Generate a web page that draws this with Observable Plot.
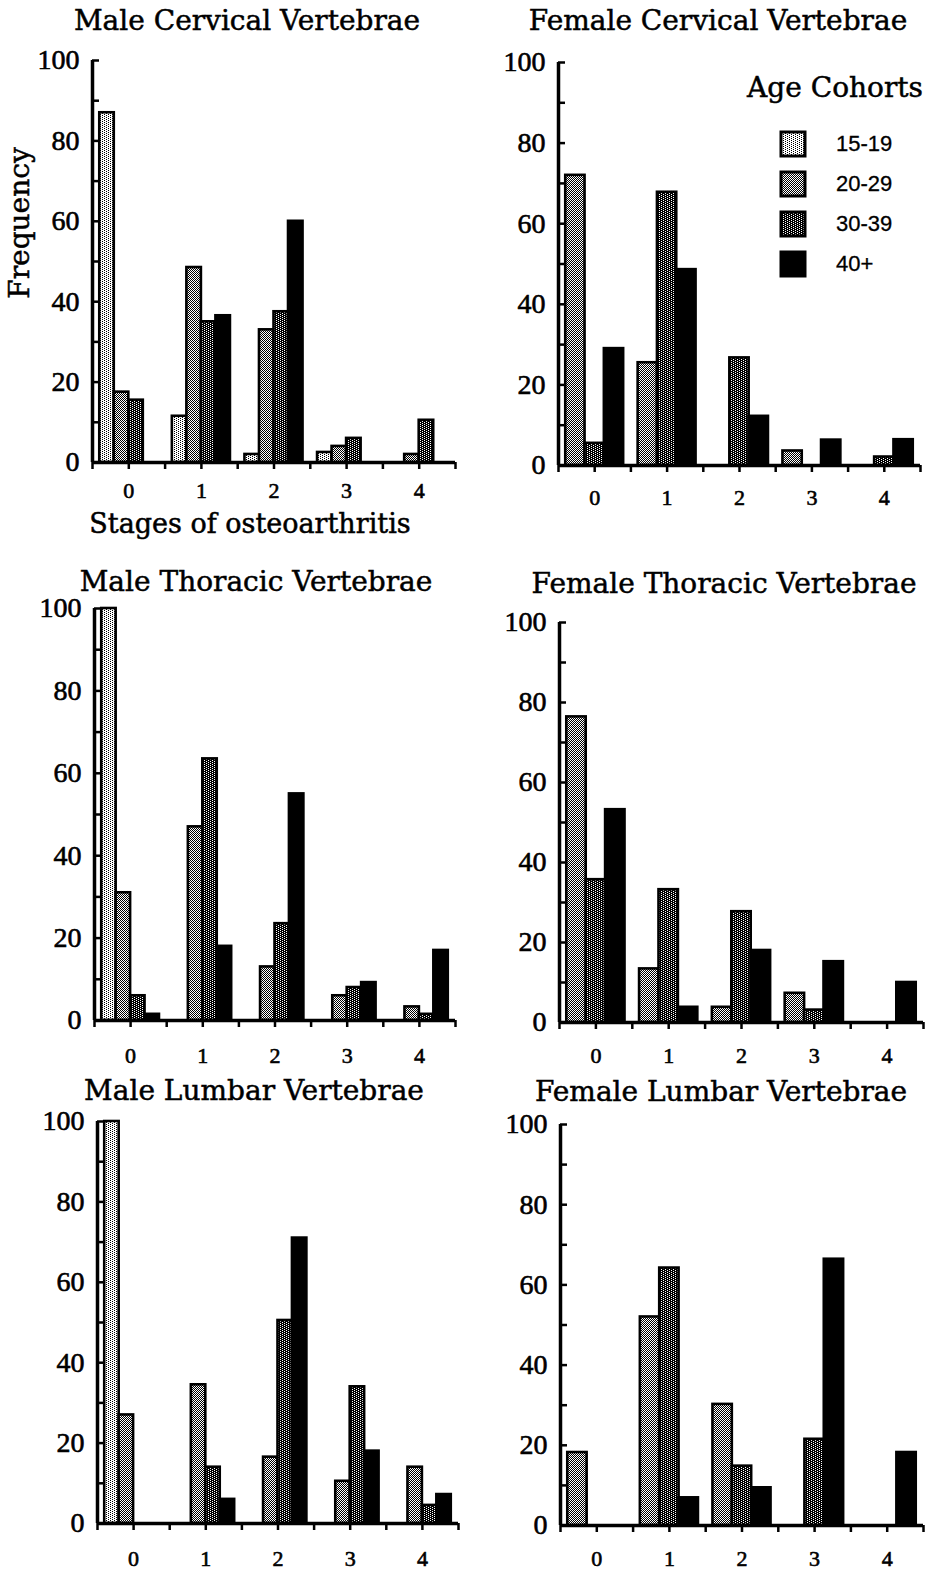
<!DOCTYPE html>
<html><head><meta charset="utf-8">
<script src="https://cdn.jsdelivr.net/npm/d3@7"></script>
<script src="https://cdn.jsdelivr.net/npm/@observablehq/plot@0.6"></script>
<style>
html,body{margin:0;padding:0;background:#fff}
body{width:934px;height:1571px;position:relative;overflow:hidden}
.abs{position:absolute}
.title{font-family:"DejaVu Serif";font-size:28px;white-space:nowrap;transform:translate(-50%,-50%);color:#000;line-height:1;-webkit-text-stroke:0.5px #000}
.lbl{font-family:"DejaVu Serif";font-size:27px;white-space:nowrap;color:#000;line-height:1;-webkit-text-stroke:0.5px #000}
.leg{font-family:"Liberation Sans";font-size:22px;white-space:nowrap;color:#000;line-height:1;transform:translateY(-50%);-webkit-text-stroke:0.3px #000}
svg.panel text{stroke:#000;stroke-width:0.6px;paint-order:stroke}
</style></head><body>
<svg width="0" height="0" style="position:absolute">
<defs>
<pattern id="p15" width="4" height="2" patternUnits="userSpaceOnUse">
<rect width="4" height="2" fill="#fff"/><rect x="0" y="0" width="1" height="1" fill="#000"/><rect x="2" y="1" width="1" height="1" fill="#000"/>
</pattern>
<pattern id="p20" width="2" height="2" patternUnits="userSpaceOnUse">
<rect width="2" height="2" fill="#fff"/><rect x="0" y="0" width="1" height="1" fill="#000"/><rect x="1" y="1" width="1" height="1" fill="#000"/>
</pattern>
<pattern id="p30" width="4" height="2" patternUnits="userSpaceOnUse">
<rect width="4" height="2" fill="#000"/><rect x="0" y="0" width="1" height="1" fill="#fff"/><rect x="2" y="1" width="1" height="1" fill="#fff"/>
</pattern>
<pattern id="p40" width="2" height="2" patternUnits="userSpaceOnUse">
<rect width="2" height="2" fill="#000"/>
</pattern>
</defs>
</svg>
<div id="root"></div>
<script>
// ---- data ----
const stages = [0, 1, 2, 3, 4];
const stageLabels = ["0", "1", "2", "3", "4"];
const yTicks = [0, 20, 40, 60, 80, 100];
const yMinorTicks = [0, 10, 20, 30, 40, 50, 60, 70, 80, 90, 100];
const maleCohorts = ["15-19", "20-29", "30-39", "40+"];
const femaleCohorts = ["20-29", "30-39", "40+"];
const legendCohorts = ["15-19", "20-29", "30-39", "40+"];

// rows: cohorts, columns: stages 0..4
const maleCervical = [
  [87, 11.5, 2, 2.5, 0],
  [17.5, 48.5, 33, 4, 2],
  [15.5, 35, 37.5, 6, 10.5],
  [0, 36.5, 60, 0, 0]
];
const femaleCervical = [
  [72, 25.5, 0, 3.6, 0],
  [5.5, 67.8, 26.7, 0, 2.1],
  [29, 48.6, 12.2, 6.3, 6.4]
];
const maleThoracic = [
  [100, 0, 0, 0, 0],
  [31, 47, 13, 6, 3.3],
  [6, 63.5, 23.5, 8, 1.5],
  [1.5, 18, 55, 9.2, 17]
];
const femaleThoracic = [
  [76.4, 13.4, 3.8, 7.3, 0],
  [35.7, 33.2, 27.7, 3.1, 0],
  [53.2, 3.8, 18, 15.2, 10]
];
const maleLumbar = [
  [100, 0, 0, 0, 0],
  [27, 34.5, 16.5, 10.5, 14],
  [0, 14, 50.5, 34, 4.5],
  [0, 6, 71, 18, 7.2]
];
const femaleLumbar = [
  [18.2, 52, 30.2, 0, 0],
  [0, 64.2, 14.8, 21.5, 0],
  [0, 6.9, 9.4, 66.4, 18.2]
];

const patterns = {"15-19": "url(#p15)", "20-29": "url(#p20)", "30-39": "url(#p30)", "40+": "url(#p40)"};

// ---- layout ----
const panels = [
  {title: "Male Cervical Vertebrae", cohorts: maleCohorts, values: maleCervical, left: 0, axisX: 92, y100: 60, y0: 462, xRight: 455, tx: 247, ty: 21, xPad: 13},
  {title: "Female Cervical Vertebrae", cohorts: femaleCohorts, values: femaleCervical, left: 467, axisX: 558, y100: 62, y0: 465, xRight: 920, tx: 718, ty: 21, xPad: 17},
  {title: "Male Thoracic Vertebrae", cohorts: maleCohorts, values: maleThoracic, left: 0, axisX: 94, y100: 608, y0: 1020, xRight: 455, tx: 256, ty: 582, xPad: 20},
  {title: "Female Thoracic Vertebrae", cohorts: femaleCohorts, values: femaleThoracic, left: 467, axisX: 559, y100: 622, y0: 1022, xRight: 923, tx: 724, ty: 584, xPad: 18},
  {title: "Male Lumbar Vertebrae", cohorts: maleCohorts, values: maleLumbar, left: 0, axisX: 97, y100: 1121, y0: 1523, xRight: 458, tx: 254, ty: 1091, xPad: 20},
  {title: "Female Lumbar Vertebrae", cohorts: femaleCohorts, values: femaleLumbar, left: 467, axisX: 560, y100: 1124, y0: 1525, xRight: 923, tx: 721, ty: 1092, xPad: 18}
];

const root = document.getElementById("root");
const W = 467, MT = 14, MB = 60;
const groupWidth = 0.8;
const xTicks = stages.flatMap(s => [s - 0.5, s]).concat([stages[stages.length - 1] + 0.5]);
const xDomain = [stages[0] - 0.5, stages[stages.length - 1] + 0.5];

for (const p of panels) {
  const bw = groupWidth / p.cohorts.length;
  const marks = [];
  p.cohorts.forEach((c, i) => {
    const rows = stages.map((s, j) => ({stage: s, v: p.values[i][j], x1: s - groupWidth / 2 + i * bw, x2: s - groupWidth / 2 + (i + 1) * bw}))
      .filter(d => d.v > 0);
    marks.push(Plot.rectY(rows, {x1: "x1", x2: "x2", y1: 0, y2: "v", fill: patterns[c], stroke: "black", strokeWidth: 2.6}));
  });
  marks.push(
    Plot.ruleY([yTicks[0]], {stroke: "black", strokeWidth: 3.5}),
    Plot.ruleX([xDomain[0]], {y1: yTicks[0], y2: yTicks[yTicks.length - 1], stroke: "black", strokeWidth: 3.5}),
    Plot.axisY({ticks: yMinorTicks, tickSize: -7, tickFormat: () => "", strokeWidth: 2.5, label: null}),
    Plot.axisY({ticks: yTicks, tickSize: 0, tickPadding: 13, fontSize: 28, label: null}),
    Plot.axisX({ticks: xTicks, tickSize: 7, tickPadding: p.xPad, fontSize: 22, strokeWidth: 2.5, label: null,
      tickFormat: d => Number.isInteger(d) ? stageLabels[stages.indexOf(d)] : ""})
  );
  const innerH = p.y0 - p.y100;
  const svg = Plot.plot({
    width: W,
    height: innerH + MT + MB,
    marginTop: MT,
    marginBottom: MB,
    marginLeft: p.axisX - p.left,
    marginRight: p.left + W - p.xRight,
    x: {domain: xDomain, axis: null},
    y: {domain: [yTicks[0], yTicks[yTicks.length - 1]], axis: null},
    style: {fontFamily: "Liberation Serif", fontSize: "26px", color: "black", background: "transparent", overflow: "visible"},
    marks
  });
  svg.classList.add("abs", "panel");
  svg.style.left = p.left + "px";
  svg.style.top = (p.y100 - MT) + "px";
  root.appendChild(svg);

  const t = document.createElement("div");
  t.className = "abs title";
  t.textContent = p.title;
  t.style.left = p.tx + "px";
  t.style.top = p.ty + "px";
  root.appendChild(t);
}

// axis titles
const ylab = document.createElement("div");
ylab.className = "abs lbl";
ylab.textContent = "Frequency";
ylab.style.left = "20px"; ylab.style.top = "223px";
ylab.style.transform = "translate(-50%,-50%) rotate(-90deg)";
ylab.style.fontSize = "28px";
root.appendChild(ylab);

const xlab = document.createElement("div");
xlab.className = "abs lbl";
xlab.textContent = "Stages of osteoarthritis";
xlab.style.left = "250px"; xlab.style.top = "523px";
xlab.style.transform = "translate(-50%,-50%)";
root.appendChild(xlab);

// legend
const lt = document.createElement("div");
lt.className = "abs lbl";
lt.textContent = "Age Cohorts";
lt.style.left = "835px"; lt.style.top = "88px";
lt.style.fontSize = "28px";
lt.style.transform = "translate(-50%,-50%)";
root.appendChild(lt);
legendCohorts.forEach((c, i) => {
  const cy = 144 + i * 40;
  const sw = document.createElementNS("http://www.w3.org/2000/svg", "svg");
  sw.setAttribute("width", 28); sw.setAttribute("height", 28);
  sw.classList.add("abs");
  sw.style.left = "779px"; sw.style.top = (cy - 14) + "px";
  const r = document.createElementNS("http://www.w3.org/2000/svg", "rect");
  r.setAttribute("x", 2); r.setAttribute("y", 2); r.setAttribute("width", 24); r.setAttribute("height", 24);
  r.setAttribute("fill", patterns[c]); r.setAttribute("stroke", "black"); r.setAttribute("stroke-width", 3);
  sw.appendChild(r);
  root.appendChild(sw);
  const l = document.createElement("div");
  l.className = "abs leg";
  l.textContent = c;
  l.style.left = "836px"; l.style.top = cy + "px";
  root.appendChild(l);
});
</script>
</body></html>
